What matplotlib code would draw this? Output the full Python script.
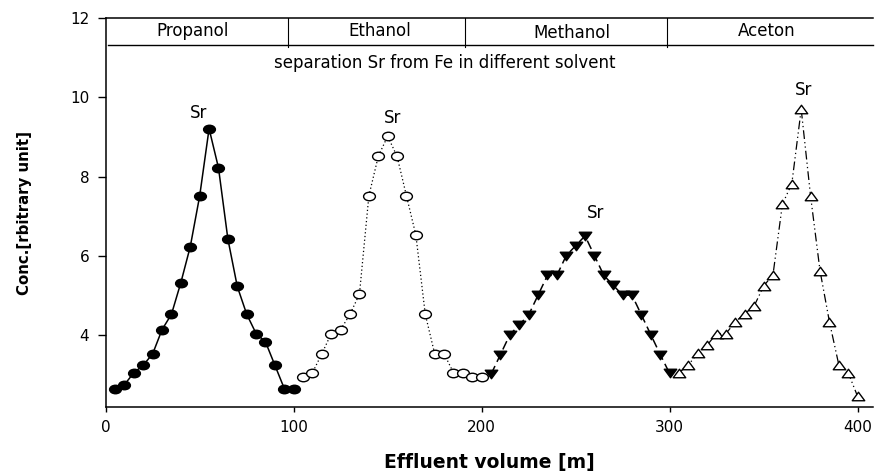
import matplotlib
matplotlib.use("Agg")
import matplotlib.pyplot as plt
from matplotlib.path import Path
from matplotlib.transforms import Affine2D

plt.rcParams['font.family'] = ['DejaVu Sans']

# Effluent volume for each solvent run
vol_propanol = [5, 10, 15, 20, 25, 30, 35, 40, 45, 50, 55, 60, 65, 70, 75, 80, 85, 90, 95, 100]
vol_ethanol = [105, 110, 115, 120, 125, 130, 135, 140, 145, 150, 155, 160, 165, 170, 175, 180, 185, 190, 195, 200]
vol_methanol = [205, 210, 215, 220, 225, 230, 235, 240, 245, 250, 255, 260, 265, 270, 275, 280, 285, 290, 295, 300]
vol_aceton = [305, 310, 315, 320, 325, 330, 335, 340, 345, 350, 355, 360, 365, 370, 375, 380, 385, 390, 395, 400]

# Concentration readings
conc_propanol = [2.64, 2.74, 3.04, 3.23, 3.52, 4.13, 4.52, 5.32, 6.23, 7.51, 9.21, 8.22, 6.42, 5.22, 4.52, 4.03, 3.82, 3.23, 2.64, 2.64]
conc_ethanol = [2.94, 3.04, 3.52, 4.03, 4.13, 4.52, 5.03, 7.51, 8.51, 9.02, 8.51, 7.51, 6.52, 4.52, 3.52, 3.52, 3.04, 3.04, 2.94, 2.94]
conc_methanol = [3.0, 3.5, 4.0, 4.25, 4.5, 5.0, 5.5, 5.5, 6.0, 6.25, 6.5, 6.0, 5.5, 5.25, 5.0, 5.0, 4.5, 4.0, 3.5, 3.02]
conc_aceton = [3.04, 3.24, 3.53, 3.74, 4.03, 4.03, 4.33, 4.53, 4.73, 5.23, 5.52, 7.3, 7.82, 9.7, 7.5, 5.62, 4.33, 3.24, 3.04, 2.44]

# Peak annotations (x, y)
sr_labels = [(49.3, 9.6), (152.6, 9.48), (260.8, 7.09), (371.0, 10.2)]

# Solvent band along the top
solvent_names = ["Propanol", "Ethanol", "Methanol", "Aceton"]
solvent_centers = [46, 145.6, 248, 351.6]
solvent_dividers = [97.2, 191.0, 298.5]
subtitle = "separation Sr from Fe in different solvent"

# Slightly flattened marker shapes
ellipse = Affine2D().scale(1.0, 0.72).transform_path(Path.unit_circle())
tri_up = Path([(-1, -0.68), (1, -0.68), (0, 0.68), (-1, -0.68)],
              [Path.MOVETO, Path.LINETO, Path.LINETO, Path.CLOSEPOLY])
tri_down = Path([(-1, 0.68), (1, 0.68), (0, -0.68), (-1, 0.68)],
                [Path.MOVETO, Path.LINETO, Path.LINETO, Path.CLOSEPOLY])

fig = plt.figure(figsize=(8.75, 4.71), dpi=100)
ax = fig.add_axes([0.1208, 0.1365, 0.8765, 0.8246])

ax.plot(vol_propanol, conc_propanol, color='black', lw=1.1, ls='-',
        marker=ellipse, markersize=8.5, mfc='black', mec='black', zorder=3)
ax.plot(vol_ethanol, conc_ethanol, color='black', lw=0.9, ls=(0, (1, 2)),
        marker=ellipse, markersize=8.5, mfc='white', mec='black', mew=1.0, zorder=3)
ax.plot(vol_methanol, conc_methanol, color='black', lw=1.1, ls=(0, (6, 3)),
        marker=tri_down, markersize=9, mfc='black', mec='black', zorder=3)
ax.plot(vol_aceton, conc_aceton, color='black', lw=0.9, ls=(0, (7, 2.5, 1, 2.5, 1, 2.5)),
        marker=tri_up, markersize=9, mfc='white', mec='black', mew=1.0, zorder=3)

for x, y in sr_labels:
    ax.text(x, y, "Sr", ha='center', va='center', fontsize=12)

# Band with solvent names and subtitle
band_low = 11.33
ax.plot([1.2, 408], [band_low, band_low], color='black', lw=1.0, clip_on=False)
for d in solvent_dividers:
    ax.plot([d, d], [12, band_low - 0.05], color='black', lw=0.8)
for name, c in zip(solvent_names, solvent_centers):
    yy = 11.68 if name != "Methanol" else 11.62
    ax.text(c, yy, name, ha='center', va='center', fontsize=12)
ax.text(180.5, 10.88, subtitle, ha='center', va='center', fontsize=12)

ax.set_xlim(0, 408)
ax.set_ylim(2.18, 12)
ax.set_xticks([0, 100, 200, 300, 400])
ax.set_yticks([4, 6, 8, 10, 12])
ax.spines['right'].set_visible(False)
for s in ['left', 'bottom', 'top']:
    ax.spines[s].set_linewidth(1.1)
ax.tick_params(axis='x', direction='out', length=3.8, width=1.0, pad=6, labelsize=11)
ax.tick_params(axis='y', direction='out', length=5.8, width=1.0, pad=6, labelsize=11)

ax.set_xlabel("Effluent volume [m]", fontsize=13.5, fontweight='bold', va='center')
ax.xaxis.set_label_coords(0.5, -0.1424)
ax.set_ylabel("Conc.[rbitrary unit]", fontsize=10.8, fontweight='bold', va='center')
ax.yaxis.set_label_coords(-0.1065, 0.5)

fig.savefig("out.png", dpi=100)
